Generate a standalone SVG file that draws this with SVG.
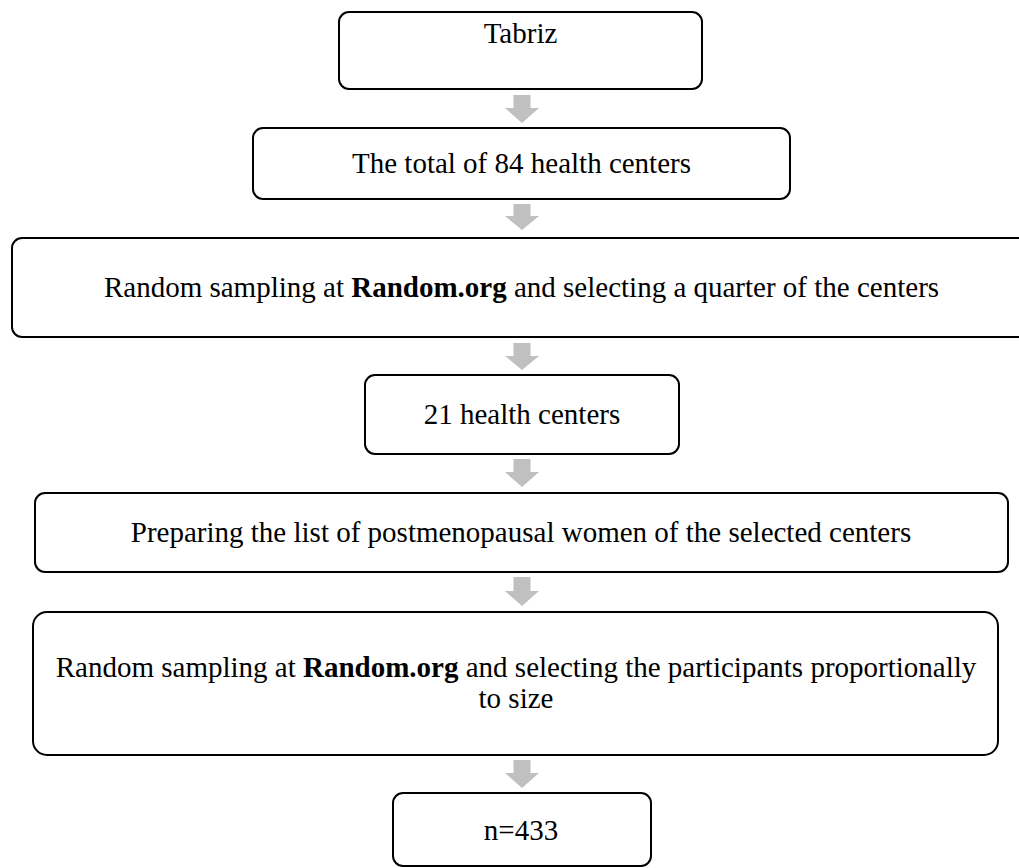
<svg xmlns="http://www.w3.org/2000/svg" width="1019" height="868" viewBox="0 0 1019 868">
  <style>
    .box { fill: #ffffff; stroke: #000000; stroke-width: 2; }
    .lbl { font-family: "Liberation Serif", "Times New Roman", serif; font-size: 29px; fill: #000000; text-anchor: middle; }
    .b { font-weight: bold; }
    .arr { fill: #c0c0c0; stroke: none; }
  </style>
  <rect x="0" y="0" width="1019" height="868" fill="#ffffff"/>
  <g id="connectors">
    <path class="arr" d="M513.5,95 H530.5 V108 H539 L522,123 L505,108 H513.5 Z"/>
    <path class="arr" d="M513.5,204 H530.5 V216 H539 L522,230 L505,216 H513.5 Z"/>
    <path class="arr" d="M513.5,343 H530.5 V356 H539 L522,370 L505,356 H513.5 Z"/>
    <path class="arr" d="M513.5,459 H530.5 V472 H539 L522,487 L505,472 H513.5 Z"/>
    <path class="arr" d="M513.5,577 H530.5 V591 H539 L522,606 L505,591 H513.5 Z"/>
    <path class="arr" d="M513.5,760 H530.5 V773 H539 L522,788 L505,773 H513.5 Z"/>
  </g>
  <g id="node-tabriz">
    <rect class="box" x="339" y="12" width="363" height="77" rx="10"/>
    <text class="lbl" x="520.5" y="43">Tabriz</text>
  </g>
  <g id="node-total">
    <rect class="box" x="253" y="128" width="537" height="71" rx="10"/>
    <text class="lbl" x="521.5" y="173">The total of 84 health centers</text>
  </g>
  <g id="node-random-centers">
    <rect class="box" x="12" y="238" width="1019" height="99" rx="10"/>
    <text class="lbl" x="521.5" y="297">Random sampling at <tspan class="b">Random.org</tspan> and selecting a quarter of the centers</text>
  </g>
  <g id="node-21">
    <rect class="box" x="365" y="375" width="314" height="79" rx="10"/>
    <text class="lbl" x="522" y="424">21 health centers</text>
  </g>
  <g id="node-list">
    <rect class="box" x="35" y="493" width="973" height="79" rx="10"/>
    <text class="lbl" x="521" y="542">Preparing the list of postmenopausal women of the selected centers</text>
  </g>
  <g id="node-random-participants">
    <rect class="box" x="33" y="612" width="965" height="143" rx="14"/>
    <text class="lbl" x="516" y="677">Random sampling at <tspan class="b">Random.org</tspan> and selecting the participants proportionally</text>
    <text class="lbl" x="516" y="708">to size</text>
  </g>
  <g id="node-n">
    <rect class="box" x="393" y="793" width="258" height="73" rx="10"/>
    <text class="lbl" x="521" y="840">n=433</text>
  </g>
</svg>
